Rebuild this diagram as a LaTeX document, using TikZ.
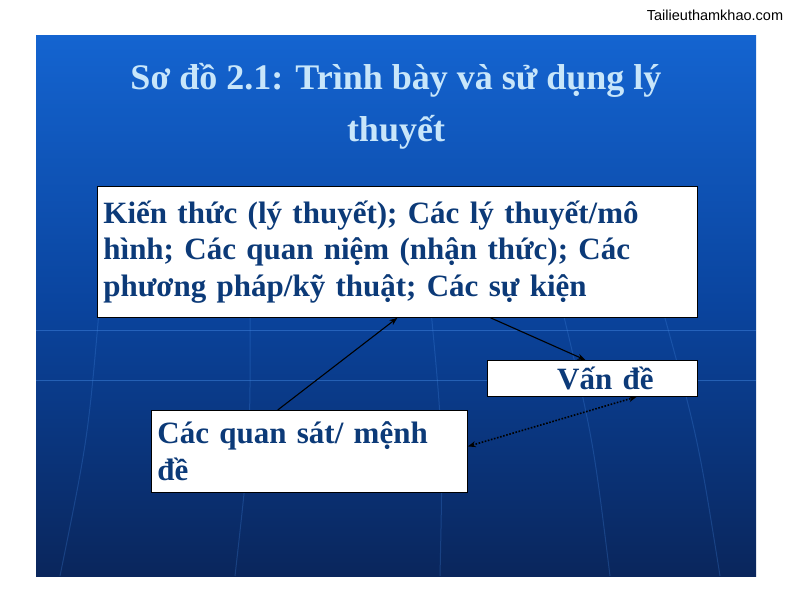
\documentclass[tikz,border=0pt]{standalone}
\usepackage{fontspec}
\setmainfont{Liberation Serif}
\newfontfamily\wmfont{Liberation Sans}
\usetikzlibrary{calc,positioning,arrows.meta}
\definecolor{slidetop}{RGB}{20,100,208}
\definecolor{slidemid}{RGB}{10,68,158}
\definecolor{slidebot}{RGB}{10,38,92}
\definecolor{gridblue}{RGB}{70,140,230}
\definecolor{titleblue}{RGB}{200,230,250}
\definecolor{textblue}{RGB}{12,58,120}
\tikzset{
>={Stealth[length=8pt,width=6pt]},
  whitebox/.style={
    rectangle,
    fill=white,
    draw=black, thick,
    anchor=north west,
    inner xsep=6pt, inner ysep=0pt,
    font=\fontsize{31}{36.5}\selectfont\bfseries,
    text=textblue,
    align=left},
  link/.style={draw, line width=1.1pt, ->},
  dotlink/.style={draw, line width=1.6pt, dash pattern=on 1.6pt off 1.6pt, <->},
  gridline/.style={draw=gridblue, opacity=.45, line width=1pt},
}
\begin{document}
\begin{tikzpicture}[x=1pt,y=-1pt]
	\useasboundingbox (0,0) rectangle (792,612);

	% slide background
	\shade[top color=slidetop, bottom color=slidebot, middle color=slidemid] (36,36) rectangle (756,576);
	\draw[gridline] (36,330) -- (756,330);
	\draw[gridline] (36,380) -- (756,380);
	\foreach \xa/\xb in {100/60, 250/235, 430/440, 560/610, 660/720}
		\draw[gridline, opacity=.25] (\xa,300) .. controls ($(\xa,300)!.5!(\xb,576)+(8,0)$) .. (\xb,576);

	\node[font=\wmfont\fontsize{14.5}{16}\selectfont] (wm) at (715,15) {Tailieuthamkhao.com};

	% title
	\node[font=\fontsize{36}{52}\selectfont\bfseries, text=titleblue, align=center] (title) at (396,106)
		{Sơ đồ 2.1: Trình bày và sử dụng lý\\ thuyết};

	% boxes
	\node[whitebox, text width=588pt, minimum height=131pt] (kienthuc) at (97,186)
		{Kiến thức (lý thuyết); Các lý thuyết/mô\\ hình; Các quan niệm (nhận thức); Các\\ phương pháp/kỹ thuật; Các sự kiện};
	\node[whitebox, text width=198pt, minimum height=36pt, align=center] (vande) at (487,360)
		{\hspace*{26pt}Vấn đề};
	\node[whitebox, text width=304pt, minimum height=82pt] (quansat) at (151,410)
		{Các quan sát/ mệnh\\ đề};

	% connectors
	\draw[link] ($(quansat.north west)!.4!(quansat.north east)$) -- (kienthuc.south);
	\draw[link] ($(kienthuc.south west)!.655!(kienthuc.south east)$) -- ($(vande.north west)!.467!(vande.north east)$);
	\draw[dotlink] ($(quansat.north east)!.44!(quansat.south east)$) -- ($(vande.south west)!.71!(vande.south east)$);

\end{tikzpicture}
\end{document}
